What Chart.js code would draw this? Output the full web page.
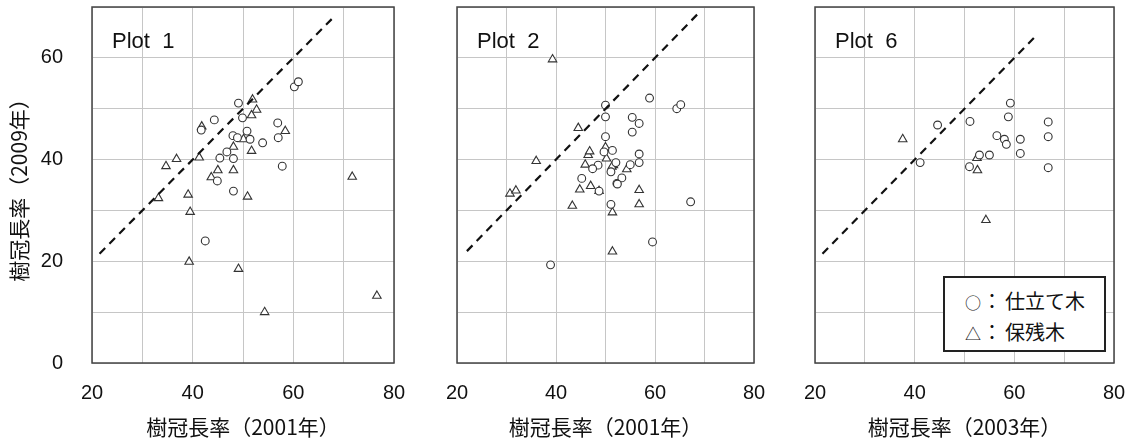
<!DOCTYPE html>
<html>
<head>
<meta charset="utf-8">
<script src="https://cdn.jsdelivr.net/npm/chart.js@4.4.1/dist/chart.umd.min.js"></script>
<style>
  body { margin: 0; background: #fff; width: 1128px; height: 444px; overflow: hidden; position: relative; }
  canvas { position: absolute; left: 0; top: 0; }
  .plotname { position: absolute; top: 30px; font: 22px/22px "Liberation Sans", Arial, sans-serif; color: #111; white-space: pre; }
  #legend { position: absolute; left: 943px; top: 276px; width: 159px; height: 64px; padding-top: 8px; border: 2px solid #222; background: #fff;
            font: 20px/30px "Noto Sans CJK JP", sans-serif; color: #111; }
  #legend div { padding-left: 20px; white-space: nowrap; }
  #legend .sym { display: inline-block; width: 17px; font-size: 16px; color: #111; }
  #legend .colon { display: inline-block; width: 20px; text-align: center; margin-right: 3px; }
</style>
</head>
<body>
<canvas id="plot1" width="1128" height="444"></canvas>
<canvas id="plot2" width="1128" height="444"></canvas>
<canvas id="plot3" width="1128" height="444"></canvas>
<div class="plotname" style="left:112px">Plot  1</div>
<div class="plotname" style="left:477px">Plot  2</div>
<div class="plotname" style="left:835px">Plot  6</div>
<div id="legend">
  <div><span class="sym">○</span><span class="colon">：</span>仕立て木</div>
  <div><span class="sym">△</span><span class="colon">：</span>保残木</div>
</div>
<script>
// tick labels shown on every axis (grid every 10)
const xTickLabels = [20, 40, 60, 80];
const yTickLabels = [0, 20, 40, 60];

// Plot 1: 樹冠長率 2001 vs 2009
const plot1Trained = [
  [49.1, 51.1], [44.3, 47.8], [41.7, 45.8], [49.9, 48.2], [48.0, 44.7], [48.9, 44.3], [50.8, 45.6],
  [46.8, 41.5], [45.4, 40.3], [48.1, 40.2], [44.9, 35.8], [48.1, 33.8], [42.5, 24.0], [60.2, 54.3],
  [61.0, 55.3], [56.9, 47.2], [57.0, 44.3], [51.4, 44.0], [53.9, 43.3], [57.8, 38.7]
];
const plot1Retained = [
  [41.8, 46.5], [48.1, 42.5], [45.0, 37.9], [48.1, 37.9], [43.7, 36.5], [41.3, 40.4], [36.8, 40.1],
  [34.7, 38.7], [33.2, 32.4], [39.1, 33.1], [39.5, 29.7], [39.3, 19.9], [49.1, 18.5], [51.9, 51.8],
  [52.7, 49.8], [51.7, 48.7], [58.4, 45.6], [50.1, 44.0], [51.7, 41.7], [71.7, 36.6], [50.9, 32.7],
  [76.6, 13.2], [54.3, 10.0]
];

// Plot 2
const plot2Trained = [
  [50.0, 50.7], [50.0, 48.4], [50.0, 44.5], [51.4, 41.8], [49.7, 41.5], [48.5, 38.9], [47.4, 38.2],
  [52.1, 39.4], [51.1, 37.6], [52.3, 35.3], [45.2, 36.3], [48.7, 33.8], [51.1, 31.2], [38.9, 19.3],
  [58.9, 52.1], [64.4, 50.0], [65.2, 50.8], [55.4, 48.3], [56.8, 47.1], [55.4, 45.4], [55.0, 39.0],
  [56.8, 41.1], [56.8, 39.4], [53.3, 36.4], [52.4, 35.2], [67.2, 31.7], [59.5, 23.8]
];
const plot2Retained = [
  [39.3, 59.7], [44.5, 46.2], [50.0, 42.4], [50.2, 40.2], [46.5, 40.9], [46.8, 41.6], [45.9, 39.0],
  [36.0, 39.7], [51.6, 38.9], [44.8, 34.1], [47.0, 34.8], [48.7, 33.8], [30.7, 33.3], [31.9, 33.9],
  [43.3, 30.9], [51.4, 29.6], [51.4, 21.9], [51.3, 38.6], [54.3, 38.1], [56.8, 34.0], [56.8, 31.2]
];

// Plot 6 (2003 vs 2009)
const plot6Trained = [
  [59.2, 51.1], [58.8, 48.4], [51.1, 47.5], [44.6, 46.8], [56.5, 44.7], [58.0, 44.0], [58.4, 43.0],
  [61.2, 44.0], [61.2, 41.2], [55.0, 40.9], [53.0, 40.9], [41.1, 39.4], [51.0, 38.6], [66.8, 47.4],
  [66.8, 44.5], [66.8, 38.4]
];
const plot6Retained = [[37.6, 44.0], [52.5, 40.3], [52.6, 37.9], [54.3, 28.1]];

// 1:1 reference line ends
const refLine1 = [21.5, 68];
const refLine2 = [22, 68.5];
const refLine6 = [21.5, 64.5];

const tickFont = { family: "'Liberation Sans', Arial, sans-serif", size: 20 };
const titleFont = { family: "'Noto Sans CJK JP', sans-serif", size: 21 };
const gridColor = "#c6c6c6";

const framePlugin = {
  id: "frame",
  beforeDatasetsDraw(chart) {
    const { ctx, chartArea: a } = chart;
    ctx.save();
    ctx.strokeStyle = "#444";
    ctx.lineWidth = 1.5;
    ctx.strokeRect(a.left, a.top, a.right - a.left, a.bottom - a.top);
    ctx.restore();
  }
};

const toPoints = (arr) => arr.map(([x, y]) => ({ x, y }));

function makePlot(id, padLeft, padRight, showY, xTitle, trained, retained, ref) {
  return new Chart(document.getElementById(id), {
    type: "scatter",
    data: {
      datasets: [
        {
          type: "line",
          data: ref.map((v) => ({ x: v, y: v })),
          borderColor: "#111",
          borderWidth: 2.2,
          borderDash: [8, 6],
          pointRadius: 0,
          fill: false
        },
        {
          label: "仕立て木",
          data: toPoints(trained),
          pointStyle: "circle",
          pointRadius: 3.9,
          borderColor: "#333",
          backgroundColor: "#fff",
          borderWidth: 1.1
        },
        {
          label: "保残木",
          data: toPoints(retained),
          pointStyle: "triangle",
          pointRadius: 4.9,
          borderColor: "#333",
          backgroundColor: "#fff",
          borderWidth: 1.1
        }
      ]
    },
    options: {
      responsive: false,
      animation: false,
      layout: { padding: { left: padLeft, right: padRight, top: 7, bottom: 0 } },
      plugins: { legend: { display: false }, tooltip: { enabled: false } },
      scales: {
        x: {
          type: "linear",
          min: 20,
          max: 80,
          border: { display: false },
          grid: { color: gridColor, lineWidth: 1, drawTicks: false },
          ticks: {
            stepSize: 10,
            padding: 18,
            color: "#111",
            font: tickFont,
            maxRotation: 0,
            autoSkip: false,
            callback: (v) => (xTickLabels.includes(v) ? String(v) : "")
          },
          title: { display: true, text: xTitle, color: "#111", font: titleFont, padding: { top: 0, bottom: 4 } },
          afterFit: (s) => { s.height = 81; s.paddingLeft = 0; s.paddingRight = 0; }
        },
        y: {
          type: "linear",
          min: 0,
          max: 70,
          border: { display: false },
          grid: { color: gridColor, lineWidth: 1, drawTicks: false },
          ticks: {
            display: showY,
            stepSize: 10,
            padding: 29,
            color: "#111",
            font: tickFont,
            autoSkip: false,
            callback: (v) => (yTickLabels.includes(v) ? String(v) : "")
          },
          title: { display: showY, text: "樹冠長率（2009年）", color: "#111", font: titleFont, padding: { top: 6, bottom: 0 } },
          afterFit: (s) => { s.width = showY ? 92 : 0; s.paddingTop = 0; s.paddingBottom = 0; }
        }
      }
    },
    plugins: [framePlugin]
  });
}

makePlot("plot1", 0, 1128 - 394, true, "樹冠長率（2001年）", plot1Trained, plot1Retained, refLine1);
makePlot("plot2", 457, 1128 - 754, false, "樹冠長率（2001年）", plot2Trained, plot2Retained, refLine2);
makePlot("plot3", 815, 1128 - 1114, false, "樹冠長率（2003年）", plot6Trained, plot6Retained, refLine6);
</script>
</body>
</html>
